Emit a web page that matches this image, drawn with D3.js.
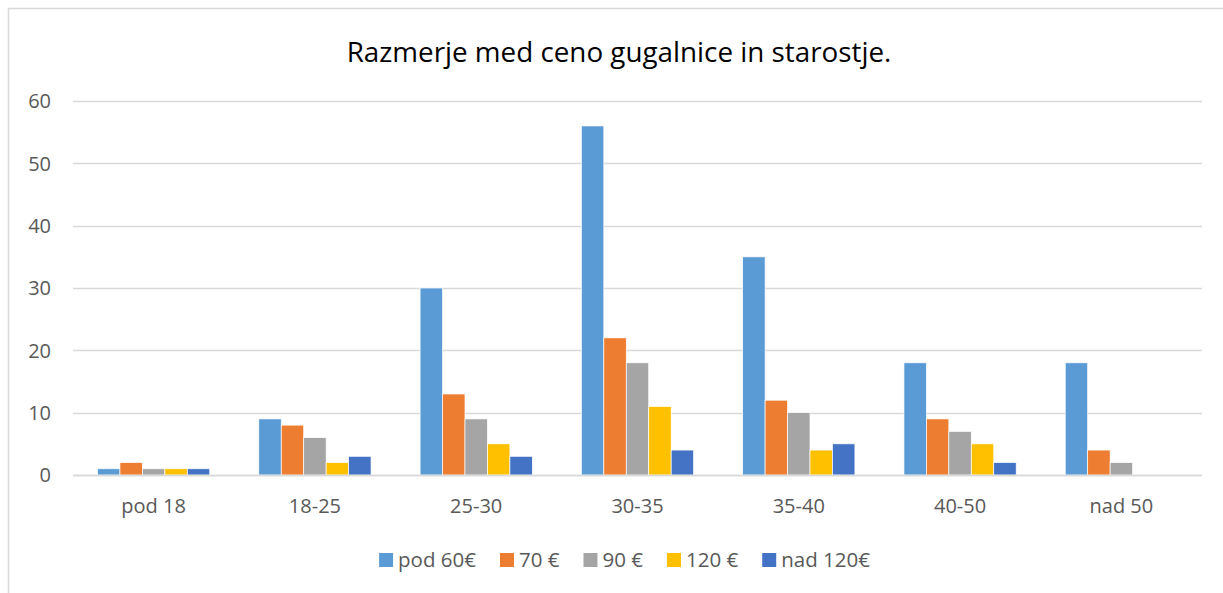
<!DOCTYPE html>
<html>
<head>
<meta charset="utf-8">
<script src="https://cdn.jsdelivr.net/npm/d3@7"></script>
<style>
  body { margin: 0; background: #fff; }
  svg text { font-family: "Open Sans", sans-serif; fill: #595959; }
</style>
</head>
<body>
<svg id="chart" width="1223" height="593"></svg>
<script>
const categories = ['pod 18', '18-25', '25-30', '30-35', '35-40', '40-50', 'nad 50'];
const seriesNames = ['pod 60€', '70 €', '90 €', '120 €', 'nad 120€'];
const pod60 = [1, 9, 30, 56, 35, 18, 18];
const eur70 = [2, 8, 13, 22, 12, 9, 4];
const eur90 = [1, 6, 9, 18, 10, 7, 2];
const eur120 = [1, 2, 5, 11, 4, 5, 0];
const nad120 = [1, 3, 3, 4, 5, 2, 0];
const yTicks = [0, 10, 20, 30, 40, 50, 60];
const colors = ['#5B9BD5', '#ED7D31', '#A5A5A5', '#FFC000', '#4472C4'];
const chartTitle = 'Razmerje med ceno gugalnice in starostje.';

const seriesValues = [pod60, eur70, eur90, eur120, nad120];

const plotLeft = 73, plotRight = 1202, plotTop = 101, plotBottom = 475;

const svg = d3.select('#chart');

// chart frame (only top and left edges are visible)
svg.append('path')
  .attr('d', 'M8.5,593 V8.5 H1223')
  .attr('fill', 'none')
  .attr('stroke', '#D9D9D9')
  .attr('stroke-width', 1.5);

svg.append('text')
  .attr('x', 619)
  .attr('y', 62)
  .attr('text-anchor', 'middle')
  .style('font-size', '27.8px')
  .style('fill', '#000')
  .text(chartTitle);

const x0 = d3.scaleBand().domain(categories).range([plotLeft, plotRight]).paddingInner(0.304).paddingOuter(0.152);
const x1 = d3.scaleBand().domain(seriesNames).range([0, x0.bandwidth()]);
const y = d3.scaleLinear().domain([0, 60]).range([plotBottom, plotTop]);

// gridlines
svg.append('g')
  .selectAll('line')
  .data(yTicks)
  .join('line')
  .attr('x1', plotLeft)
  .attr('x2', plotRight)
  .attr('y1', d => Math.round(y(d)) + 0.5)
  .attr('y2', d => Math.round(y(d)) + 0.5)
  .attr('stroke', '#D9D9D9')
  .attr('stroke-width', 1.3);

// y labels
svg.append('g')
  .selectAll('text')
  .data(yTicks)
  .join('text')
  .attr('x', 51)
  .attr('y', d => y(d))
  .attr('dy', '0.36em')
  .attr('text-anchor', 'end')
  .style('font-size', '20px')
  .text(d => d);

// bars
const groups = svg.append('g')
  .selectAll('g')
  .data(categories)
  .join('g')
  .attr('transform', d => `translate(${x0(d)},0)`);

groups.selectAll('rect')
  .data((c, i) => seriesNames.map((s, j) => ({ s, j, v: seriesValues[j][i] })))
  .join('rect')
  .filter(d => d.v > 0)
  .attr('x', d => x1(d.s))
  .attr('y', d => y(d.v))
  .attr('width', x1.bandwidth())
  .attr('height', d => y(0) - y(d.v))
  .attr('fill', d => colors[d.j])
  .attr('stroke', '#fff')
  .attr('stroke-width', 0.7);

// x axis line
svg.append('line')
  .attr('x1', plotLeft).attr('x2', plotRight)
  .attr('y1', plotBottom + 0.5).attr('y2', plotBottom + 0.5)
  .attr('stroke', '#D9D9D9')
  .attr('stroke-width', 1.3);

// category labels
svg.append('g')
  .selectAll('text')
  .data(categories)
  .join('text')
  .attr('x', d => x0(d) + x0.bandwidth() / 2)
  .attr('y', 513)
  .attr('text-anchor', 'middle')
  .style('font-size', '20px')
  .text(d => d);

// legend
const legend = svg.append('g');
const items = legend.selectAll('g')
  .data(seriesNames)
  .join('g');
items.append('rect')
  .attr('width', 14)
  .attr('height', 14)
  .attr('y', 553)
  .attr('fill', (d, i) => colors[i]);
items.append('text')
  .attr('x', 19)
  .attr('y', 567)
  .style('font-size', '20.5px')
  .text(d => d);

let pos = 0;
const offsets = [];
items.each(function () {
  offsets.push(pos);
  pos += 19 + this.querySelector('text').getComputedTextLength() + 24;
});
const total = pos - 24;
const start = 624.5 - total / 2;
items.attr('transform', (d, i) => `translate(${start + offsets[i]},0)`);
</script>
</body>
</html>
